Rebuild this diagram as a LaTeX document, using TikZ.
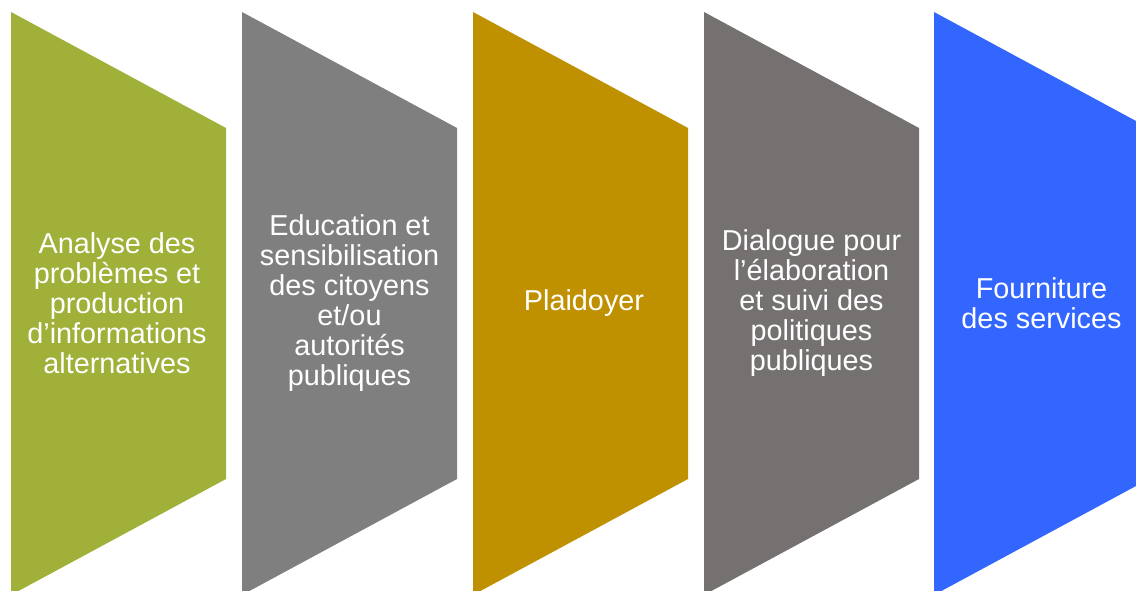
\documentclass[tikz,border=0pt]{standalone}
\usepackage{fontspec}
\setmainfont{Liberation Sans}
\usepackage{xcolor}
\usetikzlibrary{positioning}
\definecolor{stepgreen}{HTML}{A0B038}
\definecolor{stepgray}{HTML}{7F7F7F}
\definecolor{stepgold}{HTML}{BF9000}
\definecolor{stepdark}{HTML}{767171}
\definecolor{stepblue}{HTML}{3366FF}
\tikzset{every picture/.style={x=0.75pt,y=-0.75pt},
  steplabel/.style={text=white, align=center, inner sep=0pt,
    font=\fontsize{21.6}{22.5}\selectfont}}

\begin{document}
\begin{tikzpicture}
  \useasboundingbox (0,0) rectangle (1136,591);

  \foreach \x/\c in {11/stepgreen, 242/stepgray, 473/stepgold, 704/stepdark, 934/stepblue}
    \fill[\c] (\x,12) -- ++(215,116) -- ++(0,351) -- ++(-215,116) -- cycle;

  \node[steplabel] (s1) at (117,303.5) {Analyse des\\problèmes et\\production\\d’informations\\alternatives};
  \node[steplabel] (s2) at (349.5,303.5) {Education et\\sensibilisation\\des citoyens\\et/ou\\autorités\\publiques};
  \node[steplabel] (s3) at (584,303.5) {Plaidoyer};
  \node[steplabel] (s4) at (811.5,303.5) {Dialogue pour\\l’élaboration\\et suivi des\\politiques\\publiques};
  \node[steplabel] (s5) at (1041.5,303.5) {Fourniture\\des services};
\end{tikzpicture}
\end{document}
